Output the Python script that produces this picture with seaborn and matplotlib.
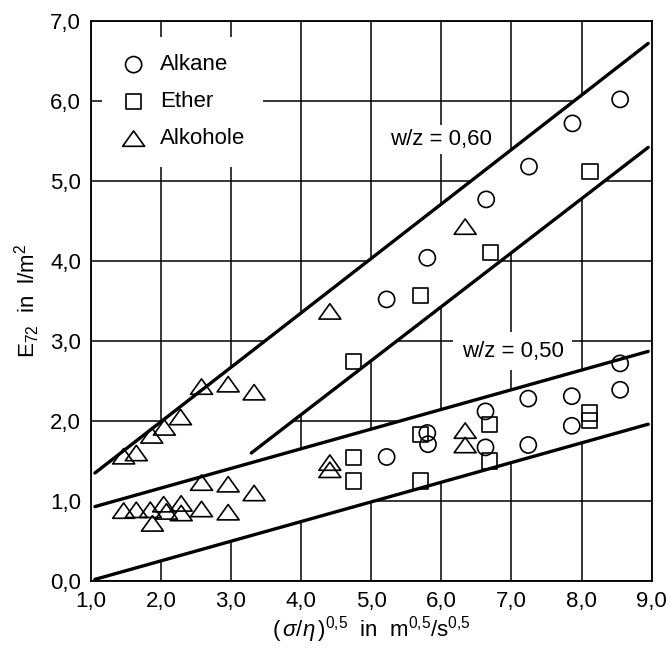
import numpy as np
import pandas as pd
import seaborn as sns
import matplotlib.pyplot as plt
from matplotlib.path import Path

# Alkane (circles)
alkane_x = [5.22, 5.80, 6.64, 7.25, 7.87, 8.55,
            5.22, 5.80, 5.81, 6.63, 6.63, 7.24, 7.24, 7.86, 7.86, 8.55, 8.55]
alkane_y = [3.52, 4.04, 4.77, 5.18, 5.72, 6.02,
            1.55, 1.85, 1.71, 2.12, 1.67, 2.28, 1.70, 2.31, 1.94, 2.72, 2.39]

# Ether (squares)
ether_x = [4.75, 5.70, 6.70, 8.12,
           4.75, 4.75, 5.70, 5.70, 6.69, 6.69, 8.11, 8.11]
ether_y = [2.74, 3.57, 4.11, 5.12,
           1.54, 1.25, 1.83, 1.25, 1.96, 1.50, 2.10, 2.01]

# Alkohole (triangles)
alkohol_x = [1.47, 1.65, 1.87, 2.05, 2.28, 2.58, 2.96, 3.33, 4.41, 6.34,
             1.47, 1.65, 1.85, 1.88, 2.04, 2.08, 2.29, 2.29, 2.58, 2.96,
             2.58, 2.96, 3.33, 4.41, 4.41, 6.34, 6.34]
alkohol_y = [1.56, 1.60, 1.82, 1.92, 2.05, 2.43, 2.46, 2.36, 3.37, 4.43,
             0.88, 0.89, 0.89, 0.72, 0.96, 0.87, 0.97, 0.85, 0.90, 0.86,
             1.23, 1.21, 1.10, 1.48, 1.39, 1.88, 1.70]

# band boundary lines (w/z = 0,60 and w/z = 0,50)
w60_upper_x = [1.06, 8.95]
w60_upper_y = [1.35, 6.72]
w60_lower_x = [3.29, 8.95]
w60_lower_y = [1.60, 5.42]
w50_upper_x = [1.06, 8.95]
w50_upper_y = [0.93, 2.87]
w50_lower_x = [1.06, 8.95]
w50_lower_y = [0.02, 1.96]

x_ticks = [1, 2, 3, 4, 5, 6, 7, 8, 9]
x_ticklabels = ["1,0", "2,0", "3,0", "4,0", "5,0", "6,0", "7,0", "8,0", "9,0"]
y_ticks = [0, 1, 2, 3, 4, 5, 6, 7]
y_ticklabels = ["0,0", "1,0", "2,0", "3,0", "4,0", "5,0", "6,0", "7,0"]

FS = 16

sns.set_style("white", rc={"axes.edgecolor": "black", "text.color": "black",
                           "axes.labelcolor": "black", "xtick.color": "black",
                           "ytick.color": "black"})
plt.rcParams["font.family"] = ["Liberation Sans", "DejaVu Sans"]
plt.rcParams["mathtext.fontset"] = "custom"
plt.rcParams["mathtext.rm"] = "Liberation Sans"
plt.rcParams["mathtext.it"] = "Liberation Sans:italic"

fig = plt.figure(figsize=(6.7, 6.48), dpi=100)
ax = fig.add_axes([0.1354, 0.1034, 0.8373, 0.8642])


def line_at(xs, ys, x):
    slope = (ys[1] - ys[0]) / (xs[1] - xs[0])
    return ys[0] + slope * (np.asarray(x) - xs[0])


# white out the grid inside the bands (as in the original drawing)
xg = np.linspace(1, 9, 500)
lo60 = np.where(xg < w60_lower_x[0], line_at(w50_lower_x, w50_lower_y, xg),
                line_at(w60_lower_x, w60_lower_y, xg))
ax.fill_between(xg, lo60, line_at(w60_upper_x, w60_upper_y, xg),
                color="white", lw=0, zorder=1)
ax.fill_between(xg, line_at(w50_lower_x, w50_lower_y, xg),
                line_at(w50_upper_x, w50_upper_y, xg),
                color="white", lw=0, zorder=1)

for lx, ly in [(w60_upper_x, w60_upper_y), (w60_lower_x, w60_lower_y),
               (w50_upper_x, w50_upper_y), (w50_lower_x, w50_lower_y)]:
    sns.lineplot(x=lx, y=ly, ax=ax, color="black", linewidth=2.4, zorder=2)

tri = Path([(-1, -0.7), (1, -0.7), (0, 0.7), (-1, -0.7)],
           [Path.MOVETO, Path.LINETO, Path.LINETO, Path.CLOSEPOLY])

sns.scatterplot(x=alkane_x, y=alkane_y, ax=ax, marker="o", s=135,
                facecolors="none", edgecolor="black", linewidth=1.2,
                label="Alkane", zorder=3)
sns.scatterplot(x=ether_x, y=ether_y, ax=ax, marker="s", s=118,
                facecolors="none", edgecolor="black", linewidth=1.2,
                label="Ether", zorder=3)
sns.scatterplot(x=alkohol_x, y=alkohol_y, ax=ax, marker=tri, s=250,
                facecolors="none", edgecolor="black", linewidth=1.2,
                label="Alkohole", zorder=3)

ax.text(6.0, 5.52, "w/z = 0,60", fontsize=FS, ha="center", va="center",
        bbox=dict(facecolor="white", edgecolor="none", pad=3), zorder=4)
ax.text(7.02, 2.87, "w/z = 0,50", fontsize=FS, ha="center", va="center",
        bbox=dict(facecolor="white", edgecolor="none", pad=6), zorder=4)

ax.set_xlim(1, 9)
ax.set_ylim(0, 7)
ax.set_xticks(x_ticks)
ax.set_xticklabels(x_ticklabels)
ax.set_yticks(y_ticks)
ax.set_yticklabels(y_ticklabels)
ax.tick_params(length=0, labelsize=FS)
ax.tick_params(axis="x", pad=7)
ax.tick_params(axis="y", pad=7)
ax.set_axisbelow(True)
ax.grid(True, color="black", linewidth=1.1)
for sp in ax.spines.values():
    sp.set_linewidth(1.3)
    sp.set_zorder(5)

ax.set_xlabel(r"$(\,\sigma/\eta\,)^{0{,}5}$  in  m$^{0{,}5}$/s$^{0{,}5}$",
              fontsize=FS, labelpad=2)
ax.set_ylabel(r"E$_{72}$  in  l/m$^2$", fontsize=FS, labelpad=6)

leg = ax.legend(loc="upper left", bbox_to_anchor=(0.021, 0.972), frameon=True,
                facecolor="white", edgecolor="none", framealpha=1,
                fancybox=False, handlelength=1.2, handletextpad=0.6,
                labelspacing=0.72, borderpad=0.8, borderaxespad=0, fontsize=FS)
leg.set_zorder(6)

fig.savefig("out.png", dpi=100)
